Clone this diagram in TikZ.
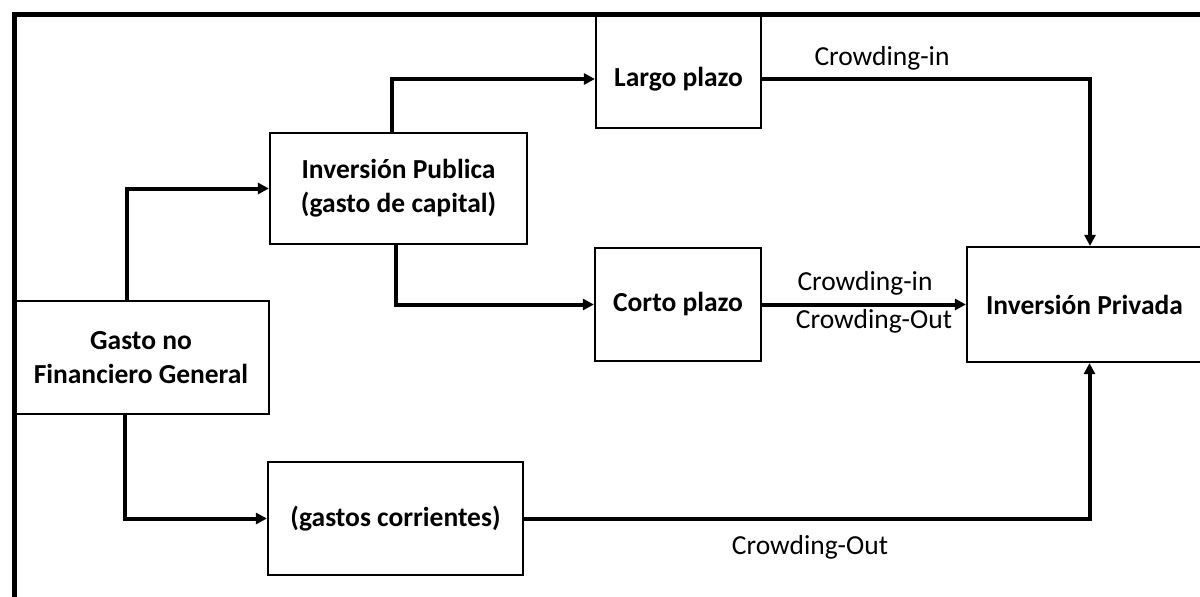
\documentclass[tikz,border=0pt]{standalone}
\usepackage{fontspec}
\setmainfont{Carlito}
\usetikzlibrary{arrows.meta,calc}
\begin{document}
\begin{tikzpicture}[x=1pt,y=-1pt,
  box/.style={draw, line width=2.2pt, inner sep=0pt, align=center, font=\fontsize{27.5}{34}\selectfont\bfseries},
  conn/.style={line width=4pt, -{Triangle[length=11pt,width=11pt]}},
  lbl/.style={font=\fontsize{27.5}{34}\selectfont, inner sep=0pt}]
\useasboundingbox (0,0) rectangle (1200,597);
% boxes
\node[box, minimum width=256pt, minimum height=113pt] (gasto) at (141,357.5) {Gasto no\\Financiero General};
\node[box, minimum width=257pt, minimum height=111pt] (inv) at (398.5,188.5) {Inversión Publica\\(gasto de capital)};
\node[box, minimum width=165pt, minimum height=114pt,
  label={[font=\fontsize{27.5}{34}\selectfont\bfseries, inner sep=0pt, yshift=-8pt]center:Largo plazo}] (largo) at (678.5,71) {};
\node[box, minimum width=166pt, minimum height=113pt] (corto) at (678,304.5) {Corto plazo};
\node[box, minimum width=235pt, minimum height=115pt] (priv) at (1084.5,304.5) {Inversión Privada};
\node[box, minimum width=255pt, minimum height=113pt] (gastos) at (395.5,518.5) {(gastos corrientes)};
% connectors
\draw[conn] ($(gasto.north west)+(115,0)$) |- (inv.west);
\draw[conn] ($(inv.north west)+(123,0)$) |- ($(largo.west)+(0,8)$);
\draw[conn] ($(inv.south west)+(127,0)$) |- (corto.west);
\draw[conn] ($(gasto.south west)+(113,0)$) |- (gastos.west);
\draw[conn] ($(largo.east)+(0,8)$) -| ($(priv.north)+(5.5,0)$);
\draw[conn] (corto.east) -- (priv.west);
\draw[conn] (gastos.east) -| ($(priv.south)+(5,0)$);
% labels
\node[lbl] (ci1) at (882,58) {Crowding-in};
\node[lbl] (ci2) at (865,283) {Crowding-in};
\node[lbl] (co1) at (874,321) {Crowding-Out};
\node[lbl] (co2) at (810,547) {Crowding-Out};
% frame
\draw[line width=5pt] (14,14) rectangle (1215,615);
\end{tikzpicture}
\end{document}
